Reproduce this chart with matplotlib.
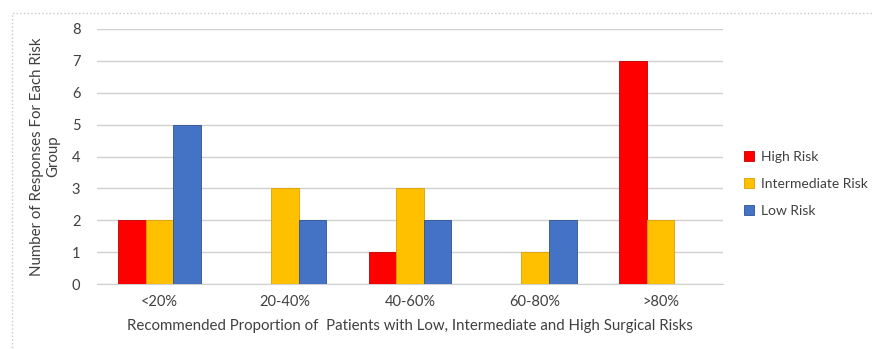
import matplotlib
matplotlib.use("Agg")
import matplotlib.pyplot as plt
import numpy as np
from matplotlib.patches import Rectangle

categories = ["<20%", "20-40%", "40-60%", "60-80%", ">80%"]
high_risk = [2, 0, 1, 0, 7]
intermediate_risk = [2, 3, 3, 1, 2]
low_risk = [5, 2, 2, 2, 0]
series_names = ["High Risk", "Intermediate Risk", "Low Risk"]
y_ticks = [0, 1, 2, 3, 4, 5, 6, 7, 8]

plt.rcParams["font.family"] = ["Lato", "DejaVu Sans"]

fig = plt.figure(figsize=(8.74, 3.49), dpi=100)
fig.patch.set_facecolor("white")
# outer frame of the chart area
fig.patches.append(Rectangle((12 / 874, -0.1), 1.2, (349 - 13) / 349 + 0.1,
                             transform=fig.transFigure, fill=False,
                             edgecolor="#c8c8c8", linewidth=1.0, linestyle=":"))

ax = fig.add_axes([97 / 874, 65 / 349, (723 - 97) / 874, (320 - 65) / 349])

x = np.arange(len(categories))
w = 0.22
colors = ["#FF0000", "#FFC000", "#4472C4"]
edges = ["#C00000", "#D9A000", "#2F528F"]
for i, (vals, name) in enumerate(zip([high_risk, intermediate_risk, low_risk], series_names)):
    ax.bar(x + (i - 1) * w, vals, width=w, color=colors[i], edgecolor=edges[i],
           linewidth=0.6, label=name, zorder=3)

ax.set_xlim(-0.5, len(categories) - 0.5)
ax.set_ylim(0, 8)
ax.set_yticks(y_ticks)
ax.set_xticks(x)
ax.set_xticklabels(categories)
ax.tick_params(axis="both", length=0, labelsize=10.5, colors="#404040")
ax.tick_params(axis="x", pad=8)
ax.tick_params(axis="y", pad=12)
ax.grid(axis="y", color="#d0d0d0", linewidth=1.0, zorder=0)
for s in ["top", "right", "left"]:
    ax.spines[s].set_visible(False)
ax.spines["bottom"].set_color("#d0d0d0")

ax.set_xlabel("Recommended Proportion of  Patients with Low, Intermediate and High Surgical Risks",
              fontsize=10.8, color="#404040", labelpad=7)
ax.set_ylabel("Number of Responses For Each Risk\nGroup", fontsize=10.8, color="#404040",
              labelpad=8)

ax.legend(loc="center left", bbox_to_anchor=(1.014, 0.393), frameon=False, fontsize=10,
          handlelength=0.7, handleheight=0.7, handletextpad=0.5, labelspacing=1.1,
          labelcolor="#404040")

fig.savefig("out.png", dpi=100, facecolor="white")
